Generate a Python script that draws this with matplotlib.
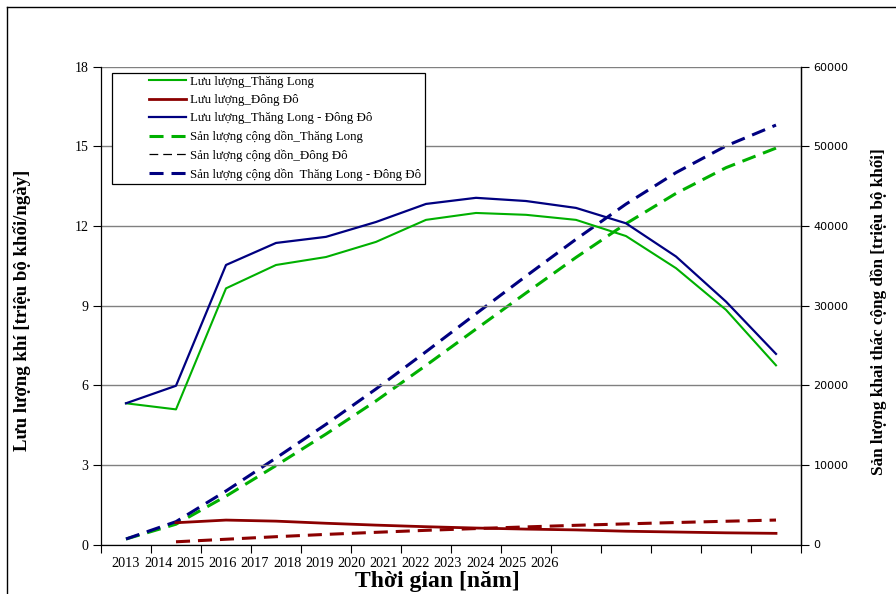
import matplotlib
matplotlib.use("Agg")
import matplotlib.pyplot as plt
from matplotlib.lines import Line2D
from matplotlib.legend_handler import HandlerLine2D
import numpy as np

# ---- data ----
years = [2013, 2014, 2015, 2016, 2017, 2018, 2019, 2020, 2021, 2022, 2023, 2024, 2025, 2026]
years_dd = years[1:]

flow_tl = [5.32, 5.09, 9.65, 10.53, 10.83, 11.40, 12.23, 12.49, 12.42, 12.23, 11.62, 10.41, 8.84, 6.75]
flow_dd = [0.82, 0.92, 0.88, 0.80, 0.73, 0.67, 0.62, 0.58, 0.55, 0.50, 0.47, 0.44, 0.42]
flow_total = [5.32, 5.98, 10.53, 11.36, 11.59, 12.15, 12.83, 13.06, 12.94, 12.68, 12.10, 10.85, 9.15, 7.18]

cum_tl = [690, 2550, 6070, 9910, 13870, 18030, 22490, 27050, 31580, 36050, 40290, 44090, 47320, 49780]
cum_dd = [340, 660, 980, 1270, 1530, 1780, 2000, 2210, 2410, 2590, 2760, 2920, 3070]
cum_total = [690, 2870, 6720, 10860, 15090, 19530, 24210, 28980, 33700, 38330, 42750, 46700, 50050, 52670]

labels = [
    "Lưu lượng_Thăng Long",
    "Lưu lượng_Đông Đô",
    "Lưu lượng_Thăng Long - Đông Đô",
    "Sản lượng cộng dồn_Thăng Long",
    "Sản lượng cộng dồn_Đông Đô",
    "Sản lượng cộng dồn  Thăng Long - Đông Đô",
]

left_ticks = [0, 3, 6, 9, 12, 15, 18]
right_ticks = [0, 10000, 20000, 30000, 40000, 50000, 60000]

GREEN = "#00B000"
RED = "#8B0000"
BLUE = "#000080"
SERIF = "Liberation Serif"

W, H = 896, 594
fig = plt.figure(figsize=(W / 100, H / 100), dpi=100)
fig.patch.set_facecolor("white")

x0, x1 = 101, 801
y_top, y_bot = 66.7, 544.5
ax = fig.add_axes([x0 / W, 1 - y_bot / H, (x1 - x0) / W, (y_bot - y_top) / H])
ax2 = ax.twinx()

xi = np.arange(len(years))
xi_dd = xi[1:]

# flows on the left axis
l1, = ax.plot(xi, flow_tl, color=GREEN, lw=1.5, zorder=3)
l2, = ax.plot(xi_dd, flow_dd, color=RED, lw=2.0, zorder=3)
l3, = ax.plot(xi, flow_total, color=BLUE, lw=1.6, zorder=3)

# cumulative production on the right axis
dash = (4.6, 2.6)
l4, = ax2.plot(xi, cum_tl, color=GREEN, lw=2.2, dashes=dash)
l5, = ax2.plot(xi_dd, cum_dd, color=RED, lw=2.2, dashes=dash)
l6, = ax2.plot(xi, cum_total, color=BLUE, lw=2.2, dashes=dash)

# axes limits / ticks
ax.set_xlim(-0.5, len(years) - 0.5)
ax.set_ylim(0, 18)
ax2.set_ylim(0, 60000)

ax.set_yticks(left_ticks)
ax.set_yticklabels([str(v) for v in left_ticks], family=SERIF, fontsize=10)
ax2.set_yticks(right_ticks)
ax2.set_yticklabels([str(v) for v in right_ticks], family="DejaVu Sans", fontsize=8)

# year labels run as a compact row under the axis
step = 0.644
ax.set_xticks([i * step for i in range(len(years))])
ax.set_xticklabels([str(y) for y in years], family=SERIF, fontsize=10.3)
ax.tick_params(axis="x", which="major", length=0, pad=9)
ax.set_xticks(np.arange(-0.5, len(years)), minor=True)
ax.tick_params(axis="x", which="minor", length=6, width=0.8, direction="out", color="black")

ax.tick_params(axis="y", length=6, width=0.8, direction="out", pad=3)
ax2.tick_params(axis="y", length=6, width=0.8, direction="out", pad=3)

ax.grid(axis="y", color="#808080", lw=1.0)
ax.set_axisbelow(True)
for a in (ax, ax2):
    a.spines["top"].set_visible(False)
    for s in ("left", "right", "bottom"):
        a.spines[s].set_color("black")
        a.spines[s].set_linewidth(0.9)
ax2.spines["left"].set_visible(False)
ax2.spines["bottom"].set_visible(False)

ax.set_zorder(ax2.get_zorder() + 1)
ax.patch.set_visible(False)

# axis titles
ax.set_xlabel("Thời gian [năm]", family=SERIF, fontweight="bold", fontsize=17)
ax.xaxis.set_label_coords((437 - x0) / (x1 - x0), (y_bot - 571) / (y_bot - y_top))
ax.set_ylabel("Lưu lượng khí [triệu bộ khối/ngày]", family=SERIF, fontweight="bold", fontsize=13.5)
ax.yaxis.set_label_coords((31 - x0) / (x1 - x0), 0.49)
ax2.set_ylabel("Sản lượng khai thác cộng dồn [triệu bộ khối]", family=SERIF, fontweight="bold",
               fontsize=12.3, rotation=90)
ax2.yaxis.set_label_coords((870 - x0) / (x1 - x0), 0.487)


class ShiftedLineHandler(HandlerLine2D):
    """Draws the legend line only on the right part of the handle box."""

    def __init__(self, shift, **kw):
        super().__init__(**kw)
        self.shift = shift

    def create_artists(self, legend, orig_handle, xdescent, ydescent, width, height, fontsize, trans):
        s = self.shift * fontsize
        return super().create_artists(legend, orig_handle, xdescent - s, ydescent,
                                      width - s, height, fontsize, trans)


dd_proxy = Line2D([], [], color="black", lw=0.9, dashes=(7, 4))
handles = [l1, l2, l3, l4, dd_proxy, l6]
leg = ax.legend(handles, labels, loc="upper left",
                bbox_to_anchor=((111.7 - x0) / (x1 - x0), (y_bot - 72.7) / (y_bot - y_top)),
                borderaxespad=0, prop={"family": SERIF, "size": 9.3},
                handlelength=5.5, handletextpad=0.35, labelspacing=0.48,
                borderpad=0.25, fancybox=False, framealpha=1, edgecolor="black",
                handler_map={Line2D: ShiftedLineHandler(2.6)})
leg.get_frame().set_linewidth(0.9)
leg.set_zorder(10)

# outer chart border (top and left edges)
fig.add_artist(Line2D([7 / W, 1], [1 - 7 / H, 1 - 7 / H], transform=fig.transFigure, color="black", lw=1))
fig.add_artist(Line2D([7 / W, 7 / W], [0, 1 - 7 / H], transform=fig.transFigure, color="black", lw=1))

fig.savefig("out.png", dpi=100, facecolor="white")
